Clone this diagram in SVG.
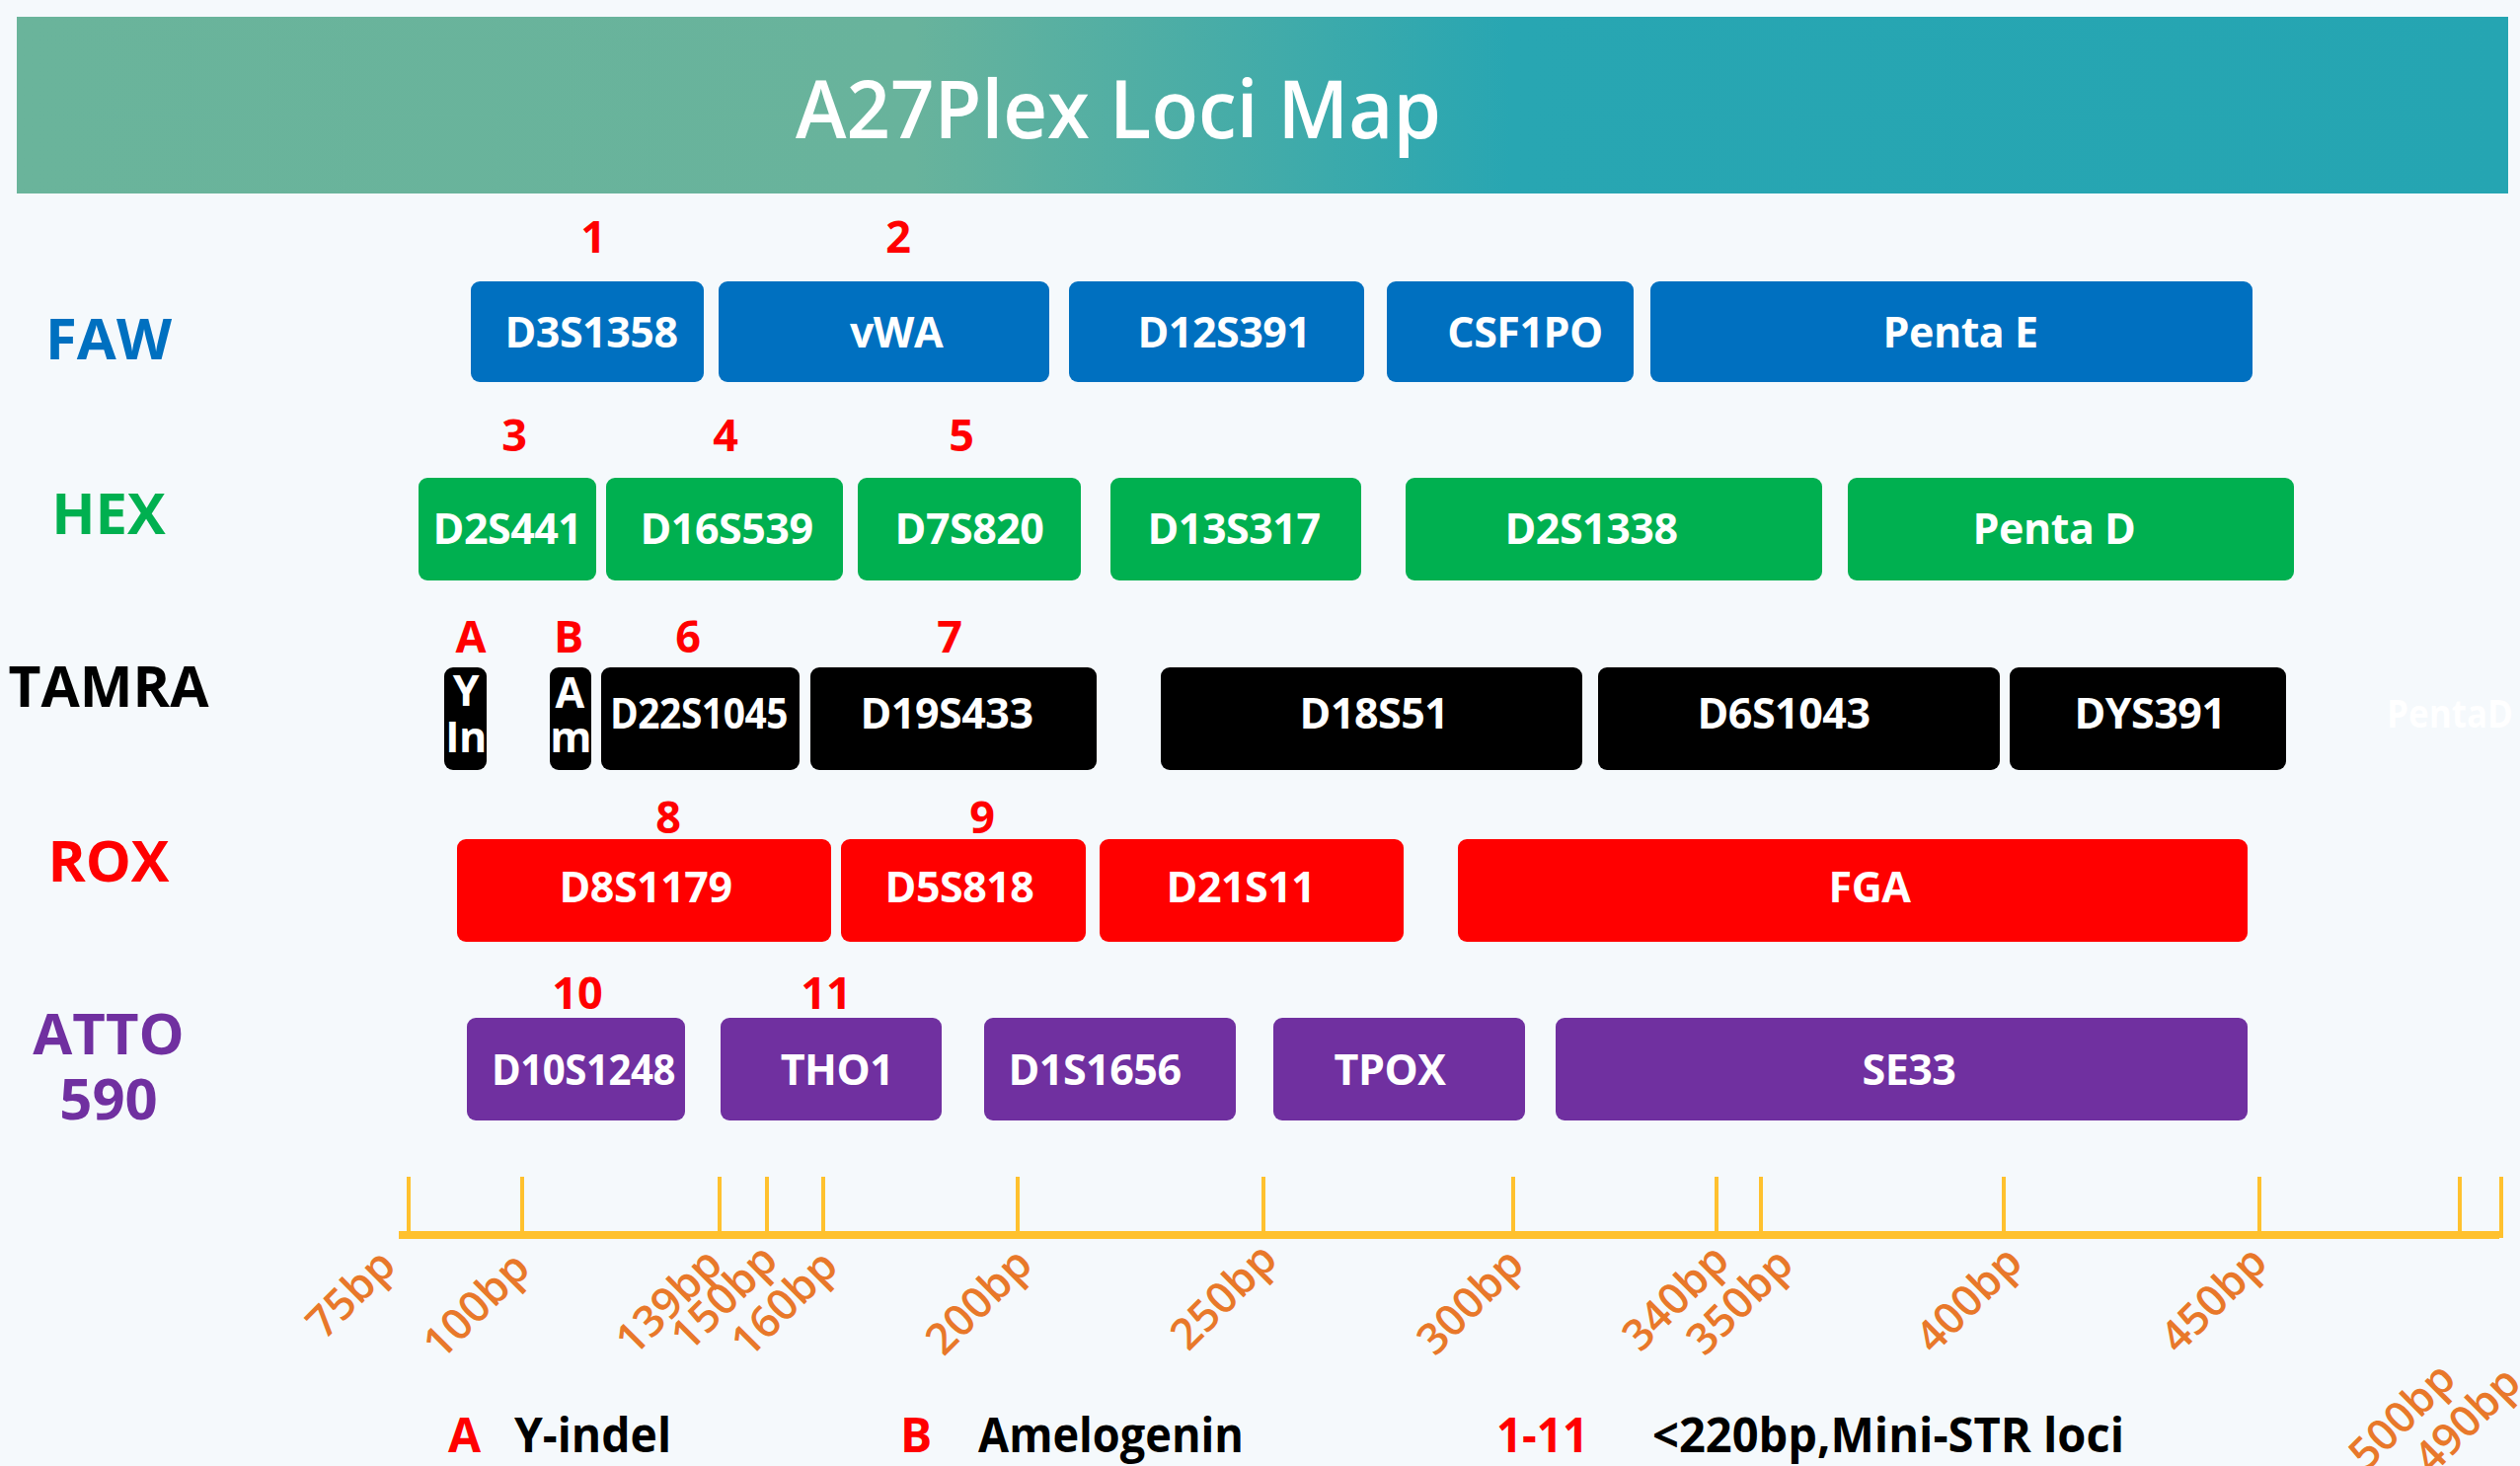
<svg xmlns="http://www.w3.org/2000/svg" width="2553" height="1485" viewBox="0 0 2553 1485">
<defs>
<linearGradient id="hdr" x1="0" y1="0" x2="1" y2="0">
<stop offset="0" stop-color="#6AB49B"/>
<stop offset="0.36" stop-color="#68B39C"/>
<stop offset="0.6" stop-color="#28A6B2"/>
<stop offset="1" stop-color="#25A5B2"/>
</linearGradient>
<style>
text{font-family:"Open Sans","Liberation Sans",sans-serif}
.bl{fill:#fff;font-size:43px;font-weight:700;text-anchor:middle;letter-spacing:-0.5px}
.num{fill:#FF0000;font-size:45px;font-weight:700;text-anchor:middle}
.row{font-size:58px;font-weight:700;text-anchor:middle}
.faw{fill:#0070C0}.hex{fill:#00B050}.tam{fill:#000}.rox{fill:#FF0000}.atto{fill:#7030A0}
.tick{stroke:#FFC12E;stroke-width:4}
.bp{fill:#E8782A;font-size:44px;font-weight:600;text-anchor:end}
.leg{font-size:48px;font-weight:700}
</style>
</defs>
<rect width="2553" height="1485" fill="#F5F9FC"/>
<g id="header">
<rect x="17" y="17" width="2524" height="179" fill="url(#hdr)"/>
<text x="806" y="140" fill="#fff" font-size="82" font-weight="600" textLength="654" lengthAdjust="spacingAndGlyphs">A27Plex Loci Map</text>
</g>
<g id="row-labels">
<text class="row faw" x="110" y="364">FAW</text>
<text class="row hex" x="110" y="541">HEX</text>
<text class="row tam" x="110" y="716" textLength="203" lengthAdjust="spacingAndGlyphs">TAMRA</text>
<text class="row rox" x="110" y="893">ROX</text>
<text class="row atto" x="110" y="1068">ATTO</text>
<text class="row atto" x="110" y="1134">590</text>
</g>
<g id="numbers">
<text class="num" x="601" y="256">1</text>
<text class="num" x="910" y="256">2</text>
<text class="num" x="521" y="457">3</text>
<text class="num" x="735" y="457">4</text>
<text class="num" x="974" y="457">5</text>
<text class="num" x="477" y="661">A</text>
<text class="num" x="576" y="661">B</text>
<text class="num" x="697" y="661">6</text>
<text class="num" x="962" y="661">7</text>
<text class="num" x="677" y="844">8</text>
<text class="num" x="995" y="844">9</text>
<text class="num" x="585" y="1022">10</text>
<text class="num" x="837" y="1022">11</text>
</g>
<g id="FAW-row">
<g id="D3S1358"><rect class="faw" x="477" y="285" width="236" height="102" rx="9"/><text class="bl" x="599" y="352">D3S1358</text></g>
<g id="vWA"><rect class="faw" x="728" y="285" width="335" height="102" rx="9"/><text class="bl" x="908" y="352">vWA</text></g>
<g id="D12S391"><rect class="faw" x="1083" y="285" width="299" height="102" rx="9"/><text class="bl" x="1240" y="352">D12S391</text></g>
<g id="CSF1PO"><rect class="faw" x="1405" y="285" width="250" height="102" rx="9"/><text class="bl" x="1545" y="352">CSF1PO</text></g>
<g id="PentaE"><rect class="faw" x="1672" y="285" width="610" height="102" rx="9"/><text class="bl" x="1986" y="352">Penta E</text></g>
</g>
<g id="HEX-row">
<g id="D2S441"><rect class="hex" x="424" y="484" width="180" height="104" rx="9"/><text class="bl" x="514" y="551">D2S441</text></g>
<g id="D16S539"><rect class="hex" x="614" y="484" width="240" height="104" rx="9"/><text class="bl" x="736" y="551">D16S539</text></g>
<g id="D7S820"><rect class="hex" x="869" y="484" width="226" height="104" rx="9"/><text class="bl" x="982" y="551">D7S820</text></g>
<g id="D13S317"><rect class="hex" x="1125" y="484" width="254" height="104" rx="9"/><text class="bl" x="1250" y="551">D13S317</text></g>
<g id="D2S1338"><rect class="hex" x="1424" y="484" width="422" height="104" rx="9"/><text class="bl" x="1612" y="551">D2S1338</text></g>
<g id="PentaD"><rect class="hex" x="1872" y="484" width="452" height="104" rx="9"/><text class="bl" x="2081" y="551">Penta D</text></g>
</g>
<g id="TAMRA-row">
<g id="YIn"><rect class="tam" x="450" y="676" width="43" height="104" rx="9"/><text class="bl" x="472" y="715" font-size="36">Y</text><text class="bl" x="472" y="762" font-size="36">In</text></g>
<g id="Am"><rect class="tam" x="557" y="676" width="42" height="104" rx="9"/><text class="bl" x="577" y="717" font-size="36">A</text><text class="bl" x="578" y="762" font-size="36">m</text></g>
<g id="D22S1045"><rect class="tam" x="609" y="676" width="201" height="104" rx="9"/><text class="bl" x="708" y="738" textLength="180" lengthAdjust="spacingAndGlyphs">D22S1045</text></g>
<g id="D19S433"><rect class="tam" x="821" y="676" width="290" height="104" rx="9"/><text class="bl" x="959" y="738">D19S433</text></g>
<g id="D18S51"><rect class="tam" x="1176" y="676" width="427" height="104" rx="9"/><text class="bl" x="1392" y="738">D18S51</text></g>
<g id="D6S1043"><rect class="tam" x="1619" y="676" width="407" height="104" rx="9"/><text class="bl" x="1807" y="738">D6S1043</text></g>
<g id="DYS391"><rect class="tam" x="2036" y="676" width="280" height="104" rx="9"/><text class="bl" x="2178" y="738">DYS391</text></g>
<text x="2418" y="737" fill="#FFFFFF" font-size="40" font-weight="700" textLength="128" lengthAdjust="spacingAndGlyphs">PentaD</text>
</g>
<g id="ROX-row">
<g id="D8S1179"><rect class="rox" x="463" y="850" width="379" height="104" rx="9"/><text class="bl" x="654" y="914">D8S1179</text></g>
<g id="D5S818"><rect class="rox" x="852" y="850" width="248" height="104" rx="9"/><text class="bl" x="972" y="914">D5S818</text></g>
<g id="D21S11"><rect class="rox" x="1114" y="850" width="308" height="104" rx="9"/><text class="bl" x="1257" y="914">D21S11</text></g>
<g id="FGA"><rect class="rox" x="1477" y="850" width="800" height="104" rx="9"/><text class="bl" x="1894" y="914">FGA</text></g>
</g>
<g id="ATTO-row">
<g id="D10S1248"><rect class="atto" x="473" y="1031" width="221" height="104" rx="9"/><text class="bl" x="591" y="1099" textLength="186" lengthAdjust="spacingAndGlyphs">D10S1248</text></g>
<g id="THO1"><rect class="atto" x="730" y="1031" width="224" height="104" rx="9"/><text class="bl" x="848" y="1099">THO1</text></g>
<g id="D1S1656"><rect class="atto" x="997" y="1031" width="255" height="104" rx="9"/><text class="bl" x="1109" y="1099">D1S1656</text></g>
<g id="TPOX"><rect class="atto" x="1290" y="1031" width="255" height="104" rx="9"/><text class="bl" x="1408" y="1099">TPOX</text></g>
<g id="SE33"><rect class="atto" x="1576" y="1031" width="701" height="104" rx="9"/><text class="bl" x="1934" y="1099">SE33</text></g>
</g>
<g id="axis">
<line x1="404" y1="1251" x2="2532" y2="1251" stroke="#FFC12E" stroke-width="8"/>
<line class="tick" x1="414" y1="1192" x2="414" y2="1251"/>
<line class="tick" x1="529" y1="1192" x2="529" y2="1251"/>
<line class="tick" x1="729" y1="1192" x2="729" y2="1251"/>
<line class="tick" x1="777" y1="1192" x2="777" y2="1251"/>
<line class="tick" x1="834" y1="1192" x2="834" y2="1251"/>
<line class="tick" x1="1031" y1="1192" x2="1031" y2="1251"/>
<line class="tick" x1="1280" y1="1192" x2="1280" y2="1251"/>
<line class="tick" x1="1533" y1="1192" x2="1533" y2="1251"/>
<line class="tick" x1="1739" y1="1192" x2="1739" y2="1251"/>
<line class="tick" x1="1784" y1="1192" x2="1784" y2="1251"/>
<line class="tick" x1="2030" y1="1192" x2="2030" y2="1251"/>
<line class="tick" x1="2289" y1="1192" x2="2289" y2="1251"/>
<line class="tick" x1="2492" y1="1192" x2="2492" y2="1251"/>
<line class="tick" x1="2534" y1="1192" x2="2534" y2="1254"/>
<text class="bp" transform="translate(403 1284) rotate(-45)">75bp</text>
<text class="bp" transform="translate(539 1287) rotate(-45)">100bp</text>
<text class="bp" transform="translate(734 1283) rotate(-45)">139bp</text>
<text class="bp" transform="translate(790 1279) rotate(-45)">150bp</text>
<text class="bp" transform="translate(851 1285) rotate(-45)">160bp</text>
<text class="bp" transform="translate(1048 1283) rotate(-45)">200bp</text>
<text class="bp" transform="translate(1296 1278) rotate(-45)">250bp</text>
<text class="bp" transform="translate(1546 1283) rotate(-45)">300bp</text>
<text class="bp" transform="translate(1754 1279) rotate(-45)">340bp</text>
<text class="bp" transform="translate(1819 1283) rotate(-45)">350bp</text>
<text class="bp" transform="translate(2051 1281) rotate(-45)">400bp</text>
<text class="bp" transform="translate(2299 1281) rotate(-45)">450bp</text>
<text class="bp" transform="translate(2490 1399) rotate(-45)">500bp</text>
<text class="bp" transform="translate(2556 1403) rotate(-45)">490bp</text>
</g>
<g id="legend">
<text class="leg" x="454" y="1471" fill="#FF0000">A</text>
<text class="leg" x="521" y="1471" fill="#000" textLength="159" lengthAdjust="spacingAndGlyphs">Y-indel</text>
<text class="leg" x="912" y="1471" fill="#FF0000">B</text>
<text class="leg" x="991" y="1471" fill="#000" textLength="269" lengthAdjust="spacingAndGlyphs">Amelogenin</text>
<text class="leg" x="1516" y="1471" fill="#FF0000" textLength="93" lengthAdjust="spacingAndGlyphs">1-11</text>
<text class="leg" x="1674" y="1471" fill="#000" textLength="478" lengthAdjust="spacingAndGlyphs">&lt;220bp,Mini-STR loci</text>
</g>
</svg>
